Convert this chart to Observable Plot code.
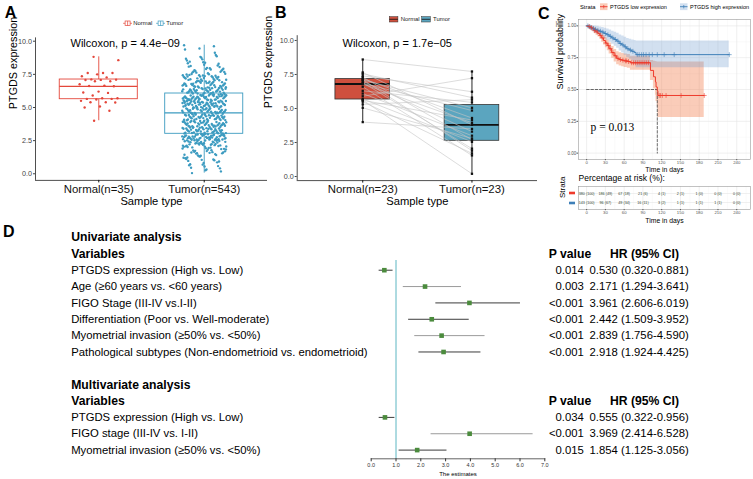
<!DOCTYPE html>
<html><head><meta charset="utf-8">
<script src="https://cdn.jsdelivr.net/npm/d3@7"></script>
<script src="https://cdn.jsdelivr.net/npm/@observablehq/plot@0.6"></script>
<style>
html,body{margin:0;padding:0;background:#fff;}
#root{position:relative;width:753px;height:479px;overflow:hidden;background:#fff;font-family:'Liberation Sans',Arial,Helvetica,sans-serif;}
</style></head>
<body><div id="root"></div>
<script>
// ---------------- DATA ----------------
// Panel A (unpaired)
const A_categories = ["Normal(n=35)", "Tumor(n=543)"];
const A_normal = [8.82,8.57,7.6,7.6,7.6,7.5,7.36,7.27,7.12,7.1,7.08,7.07,6.98,6.98,6.75,6.65,6.62,6.6,6.2,6.13,6.1,5.9,5.7,5.7,5.65,5.65,5.6,5.5,5.4,5.4,5.38,5.08,5.0,4.75,4.0];
const A_tumor = ("0.05 0.32 0.18 0.45 0.27 0.41 " +
"0.72 0.55 0.93 0.64 0.81 0.58 0.97 0.69 0.86 " +
"1.23 1.05 1.41 1.12 1.36 1.48 1.17 1.29 1.02 1.44 1.33 1.08 1.21 1.39 " +
"1.63 1.91 1.55 1.78 1.84 1.52 1.97 1.69 1.73 1.58 1.88 1.66 1.94 1.61 1.76 1.82 1.54 1.99 1.71 1.86 1.6 1.93 " +
"2.14 2.38 2.05 2.47 2.22 2.31 2.09 2.43 2.18 2.35 2.02 2.27 2.49 2.11 2.4 2.25 2.07 2.33 2.16 2.45 2.2 2.37 2.03 2.29 2.42 2.12 2.48 2.24 2.06 2.34 2.19 2.41 2.28 " +
"2.62 2.85 2.53 2.74 2.91 2.67 2.98 2.58 2.81 2.7 2.95 2.56 2.77 2.88 2.64 2.51 2.83 2.72 2.97 2.6 2.79 2.93 2.55 2.68 2.86 2.75 2.52 2.99 2.63 2.9 2.71 2.57 2.84 2.66 2.94 2.78 2.54 2.89 2.61 2.96 2.73 2.82 2.59 2.87 2.69 2.92 2.76 2.65 2.8 2.58 2.94 " +
"3.12 3.38 3.05 3.47 3.21 3.29 3.08 3.44 3.16 3.33 3.02 3.26 3.49 3.1 3.41 3.18 3.35 3.06 3.23 3.45 3.14 3.31 3.01 3.27 3.42 3.19 3.37 3.09 3.48 3.22 3.04 3.34 3.15 3.4 3.25 3.11 3.46 3.2 3.36 3.07 3.3 3.43 " +
"3.62 3.88 3.55 3.74 3.97 3.67 3.81 3.51 3.93 3.7 3.59 3.85 3.64 3.99 3.76 3.53 3.9 3.68 3.82 3.57 3.95 3.72 3.6 3.86 3.65 3.79 3.52 3.91 3.69 3.84 3.56 3.77 3.98 3.63 3.87 3.71 3.54 3.94 3.8 3.66 3.92 3.58 3.75 3.89 " +
"4.13 4.37 4.05 4.46 4.22 4.3 4.08 4.41 4.17 4.34 4.02 4.27 4.49 4.11 4.39 4.19 4.33 4.06 4.24 4.44 4.15 4.31 4.01 4.28 4.43 4.2 4.36 4.09 4.47 4.23 4.04 4.35 4.14 4.4 4.26 4.12 4.45 4.21 4.38 4.07 4.29 4.42 " +
"4.63 4.87 4.54 4.75 4.96 4.68 4.82 4.51 4.92 4.71 4.58 4.85 4.65 4.99 4.77 4.53 4.9 4.69 4.81 4.57 4.94 4.73 4.6 4.86 4.66 4.79 4.52 4.91 4.7 4.84 4.56 4.78 4.97 4.62 4.88 4.72 4.55 4.93 4.8 4.67 " +
"5.13 5.37 5.05 5.46 5.22 5.3 5.08 5.41 5.17 5.34 5.02 5.27 5.49 5.11 5.39 5.19 5.33 5.06 5.24 5.44 5.15 5.31 5.01 5.28 5.43 5.2 5.36 5.09 5.47 5.23 5.04 5.35 5.14 5.4 5.26 5.12 5.45 5.21 5.38 5.07 5.29 5.42 5.16 5.48 5.03 5.32 5.18 5.25 5.1 5.36 " +
"5.63 5.87 5.54 5.75 5.96 5.68 5.82 5.51 5.92 5.71 5.58 5.85 5.65 5.99 5.77 5.53 5.9 5.69 5.81 5.57 5.94 5.73 5.6 5.86 5.66 5.79 5.52 5.91 5.7 5.84 5.56 5.78 5.97 5.62 5.88 5.72 5.55 5.93 5.8 5.67 5.89 5.61 5.74 5.95 5.59 5.83 5.64 5.98 5.76 5.5 " +
"6.13 6.37 6.05 6.46 6.22 6.3 6.08 6.41 6.17 6.34 6.02 6.27 6.49 6.11 6.39 6.19 6.33 6.06 6.24 6.44 6.15 6.31 6.01 6.28 6.43 6.2 6.36 6.09 6.47 6.23 6.04 6.35 6.14 6.4 6.26 6.12 6.45 6.21 " +
"6.63 6.87 6.54 6.75 6.96 6.68 6.82 6.51 6.92 6.71 6.58 6.85 6.65 6.99 6.77 6.53 6.9 6.69 6.81 6.57 6.94 6.73 6.6 6.86 6.66 6.79 6.52 6.91 6.7 6.84 6.56 6.78 6.97 6.62 " +
"7.13 7.37 7.05 7.46 7.22 7.3 7.08 7.41 7.17 7.34 7.02 7.27 7.49 7.11 7.39 7.19 7.33 7.06 7.24 7.44 7.15 7.31 7.01 7.28 7.43 7.2 7.36 7.09 " +
"7.63 7.87 7.54 7.75 7.96 7.68 7.82 7.51 7.92 7.71 7.58 7.85 7.65 7.99 7.77 7.53 7.9 7.69 " +
"8.13 8.37 8.05 8.46 8.22 8.3 8.08 8.41 8.17 8.34 " +
"8.63 8.87 8.54 8.75 8.96 8.68 8.82 " +
"9.13 9.37 9.45 9.62 9.7").split(/\s+/).map(Number);
const A_pLabel = "Wilcoxon, p = 4.4e\u221209";

// Panel B (paired, patient order)
const B_categories = ["Normal(n=23)", "Tumor(n=23)"];
const B_normal = [8.6,7.65,7.55,7.4,7.3,7.2,7.12,7.1,7.0,6.9,6.85,6.8,6.6,6.3,6.1,5.9,5.7,5.62,5.6,5.5,5.3,5.05,4.0];
const B_tumor  = [7.72,3.8,5.8,6.23,2.7,4.3,1.9,5.05,3.3,2.05,4.85,3.95,1.55,5.45,3.0,7.23,2.55,0.2,4.15,1.7,5.65,2.8,3.5];
const B_pLabel = "Wilcoxon, p = 1.7e\u221205";
const groupNames = ["Normal", "Tumor"];

// Panel C (Kaplan-Meier)
const kmStrata = ["PTGDS low expression", "PTGDS high expression"];
const lowTime  = [0,3,6,9,12,15,18,21,24,27,30,33,36,40,44,48,52,56,60,65,70,102,107,110,111,113,114,188];
const lowSurv  = [1,0.995,0.985,0.975,0.962,0.952,0.94,0.925,0.905,0.885,0.865,0.845,0.82,0.79,0.765,0.745,0.735,0.73,0.725,0.72,0.71,0.65,0.60,0.56,0.52,0.49,0.453,0.453];
const lowUpper = [1,1,1,0.995,0.986,0.978,0.968,0.955,0.94,0.922,0.905,0.888,0.866,0.838,0.815,0.797,0.788,0.783,0.779,0.775,0.762,0.728,0.722,0.72,0.718,0.716,0.716,0.716];
const lowLower = [1,0.985,0.972,0.958,0.94,0.927,0.912,0.895,0.872,0.85,0.828,0.805,0.778,0.745,0.717,0.695,0.684,0.678,0.673,0.667,0.652,0.57,0.505,0.455,0.405,0.36,0.28,0.28];
const lowCensor = [4,8,13,17,22,26,31,35,38,42,46,50,54,58,62,64,67,72,75,78,81,84,87,90,93,96,99,116,118,121,127,151,188];
const highTime  = [0,3,6,9,12,16,20,24,28,32,36,40,44,48,52,56,60,64,68,72,76,79,228];
const highSurv  = [1,0.993,0.986,0.979,0.972,0.965,0.958,0.951,0.94,0.93,0.918,0.905,0.893,0.88,0.862,0.85,0.835,0.82,0.81,0.80,0.79,0.774,0.774];
const highUpper = [1,1,1,1,0.999,0.996,0.992,0.988,0.981,0.975,0.967,0.958,0.95,0.941,0.928,0.92,0.91,0.9,0.894,0.889,0.885,0.882,0.882];
const highLower = [1,0.98,0.966,0.955,0.944,0.934,0.924,0.915,0.9,0.887,0.872,0.855,0.84,0.824,0.802,0.787,0.769,0.751,0.738,0.724,0.705,0.671,0.671];
const highCensor = [2,5,7,11,14,18,22,26,30,34,38,42,46,50,54,58,62,66,70,74,81,84,88,91,95,100,105,113,124,140,228];
const kmPLabel = "p = 0.013";
const riskTimes = [0,30,60,90,120,150,180,210,240];
const riskLowN  = [380,186,67,21,4,2,1,0,0];
const riskLowPct = [100,49,18,6,1,1,0,0,0];
const riskHighN = [143,96,49,16,3,1,1,1,0];
const riskHighPct = [100,67,34,11,2,1,1,1,0];

// Panel D (Cox regression forest)
const sectionTitles = ["Univariate analysis", "Multivariate analysis"];
const colHeaders = ["Variables", "P value", "HR (95% CI)"];
const uniVars = ["PTGDS expression (High vs. Low)", "Age (\u226560 years vs. <60 years)", "FIGO Stage (III-IV vs.I-II)", "Differentiation (Poor vs. Well-moderate)", "Myometrial invasion (\u226550% vs. <50%)", "Pathological subtypes (Non-endometrioid vs. endometrioid)"];
const uniHR   = [0.530, 2.171, 3.961, 2.442, 2.839, 2.918];
const uniLow  = [0.320, 1.294, 2.606, 1.509, 1.756, 1.924];
const uniHigh = [0.881, 3.641, 6.019, 3.952, 4.590, 4.425];
const uniP    = ["0.014", "0.003", "<0.001", "<0.001", "<0.001", "<0.001"];
const multiVars = ["PTGDS expression (High vs. Low)", "FIGO stage (III-IV vs. I-II)", "Myometrial invasion (\u226550% vs. <50%)"];
const multiHR   = [0.555, 3.969, 1.854];
const multiLow  = [0.322, 2.414, 1.125];
const multiHigh = [0.956, 6.528, 3.056];
const multiP    = ["0.034", "<0.001", "0.015"];

// ---------------- HELPERS ----------------
const root = document.getElementById("root");
const FONT = "'Liberation Sans', Arial, Helvetica, sans-serif";
const baseStyle = {fontFamily: FONT, background: "transparent", overflow: "visible"};
function put(node, left, top) {
  node.style.position = "absolute";
  node.style.left = left + "px";
  node.style.top = top + "px";
  node.style.maxWidth = "none";
  root.appendChild(node);
}
function boxStats(vals, g) {
  const s = vals.slice().sort(d3.ascending);
  const q1 = d3.quantile(s, 0.25), med = d3.quantile(s, 0.5), q3 = d3.quantile(s, 0.75);
  const iqr = q3 - q1;
  return {g, q1, med, q3,
    lo: d3.min(s.filter(v => v >= q1 - 1.5 * iqr)),
    hi: d3.max(s.filter(v => v <= q3 + 1.5 * iqr))};
}
const jit = (i, w) => (((i * 0.6180339887 + 0.37) % 1) - 0.5) * w;

// ---------------- PANEL A ----------------
const colA = ["#E4473B", "#3C9BC0"];
const ptsA = [
  ...A_normal.map((v, i) => ({g: 1, v, jx: 1 + jit(i, 0.38)})),
  ...A_tumor.map((v, i) => ({g: 2, v, jx: 2 + jit(i * 7 + 3, 0.42)}))
];
const statsA = [boxStats(A_normal, 1), boxStats(A_tumor, 2)];
const halfA = 0.37;
put(Plot.plot({
  width: 270, height: 180, marginLeft: 35, marginRight: 3, marginTop: 7.4, marginBottom: 30.1,
  x: {domain: [0.4, 2.6], axis: null}, y: {domain: [-0.5, 10.25], axis: null},
  color: {type: "identity"}, style: baseStyle,
  marks: [
    Plot.ruleX(statsA, {x: "g", y1: "q3", y2: "hi", stroke: d => colA[d.g - 1], strokeWidth: 0.9}),
    Plot.ruleX(statsA, {x: "g", y1: "lo", y2: "q1", stroke: d => colA[d.g - 1], strokeWidth: 0.9}),
    Plot.rect(statsA, {x1: d => d.g - halfA, x2: d => d.g + halfA, y1: "q1", y2: "q3", fill: "white", stroke: d => colA[d.g - 1], strokeWidth: 0.9}),
    Plot.ruleY(statsA, {y: "med", x1: d => d.g - halfA, x2: d => d.g + halfA, stroke: d => colA[d.g - 1], strokeWidth: 1.3}),
    Plot.dot(ptsA, {x: "jx", y: "v", r: 1.2, fill: d => colA[d.g - 1]}),
    Plot.ruleX([0.4], {stroke: "#222", strokeWidth: 0.8}),
    Plot.ruleY([-0.5], {stroke: "#222", strokeWidth: 0.8}),
    Plot.axisY({ticks: [0, 2.5, 5, 7.5, 10], tickFormat: d3.format(".1f"), tickSize: 2, tickPadding: 1.5, fontSize: 7.2, color: "#444", label: null}),
    Plot.axisX({ticks: [1, 2], tickFormat: d => A_categories[d - 1], tickSize: 2.5, tickPadding: 1.5, fontSize: 11.4, color: "#111", label: null}),
    Plot.text([A_pLabel], {frameAnchor: "top-left", textAnchor: "start", lineAnchor: "middle", dx: 35, dy: 5.6, fontSize: 11}),
    Plot.text(["Sample type"], {frameAnchor: "bottom", lineAnchor: "middle", dy: 21.1, fontSize: 11.2}),
    Plot.text(["PTGDS expression"], {frameAnchor: "left", rotate: -90, lineAnchor: "middle", dx: -22, fontSize: 10.8})
  ]
}), 0, 30);

// ---------------- PANEL B ----------------
const colB = ["#CF503E", "#5BA5BF"];
const statsB = [boxStats(B_normal, 1), boxStats(B_tumor, 2)];
const pairsB = B_normal.map((n, i) => ({n, t: B_tumor[i]}));
const ptsB = [...B_normal.map(v => ({g: 1, v})), ...B_tumor.map(v => ({g: 2, v}))];
const halfB = 0.25;
put(Plot.plot({
  width: 285, height: 180, marginLeft: 41.7, marginRight: 3, marginTop: 5.2, marginBottom: 29.9,
  x: {domain: [0.4, 2.6], axis: null}, y: {domain: [-0.3, 10.35], axis: null},
  color: {type: "identity"}, style: baseStyle,
  marks: [
    Plot.ruleX(statsB, {x: "g", y1: "lo", y2: "hi", stroke: "#111", strokeWidth: 0.9}),
    Plot.rect(statsB, {x1: d => d.g - halfB, x2: d => d.g + halfB, y1: "q1", y2: "q3", fill: d => colB[d.g - 1], stroke: "#333", strokeWidth: 0.8}),
    Plot.ruleY(statsB, {y: "med", x1: d => d.g - halfB, x2: d => d.g + halfB, stroke: "#111", strokeWidth: 1.8}),
    Plot.link(pairsB, {x1: () => 1, y1: "n", x2: () => 2, y2: "t", stroke: "#c4c4c4", strokeWidth: 0.6}),
    Plot.dot(ptsB, {x: "g", y: "v", symbol: "square", r: 1.3, fill: "#111"}),
    Plot.ruleX([0.4], {stroke: "#222", strokeWidth: 0.8}),
    Plot.ruleY([-0.3], {stroke: "#222", strokeWidth: 0.8}),
    Plot.axisY({ticks: [0, 2.5, 5, 7.5, 10], tickFormat: d3.format(".1f"), tickSize: 2, tickPadding: 1.5, fontSize: 7.2, color: "#444", label: null}),
    Plot.axisX({ticks: [1, 2], tickFormat: d => B_categories[d - 1], tickSize: 2.5, tickPadding: 1.5, fontSize: 11.4, color: "#111", label: null}),
    Plot.text([B_pLabel], {frameAnchor: "top-left", textAnchor: "start", lineAnchor: "middle", dx: 45.3, dy: 8.1, fontSize: 11}),
    Plot.text(["Sample type"], {frameAnchor: "bottom", lineAnchor: "middle", dy: 21.1, fontSize: 11.2}),
    Plot.text(["PTGDS expression"], {frameAnchor: "left", rotate: -90, lineAnchor: "middle", dx: -28.4, fontSize: 10.8})
  ]
}), 255, 30);

// ---------------- PANEL C ----------------
const kmRed = "#EE3A2C", kmBlue = "#3F80B8";
const bandRed = "#F27A48", bandBlue = "#6A98CC";
const lowKM = lowTime.map((t, i) => ({t, s: lowSurv[i], lo: lowLower[i], hi: lowUpper[i]}));
const highKM = highTime.map((t, i) => ({t, s: highSurv[i], lo: highLower[i], hi: highUpper[i]}));
const stepAt = (times, surv, t) => surv[Math.max(0, d3.bisectRight(times, t) - 1)];
const lowCens = lowCensor.map(t => ({t, s: stepAt(lowTime, lowSurv, t)}));
const highCens = highCensor.map(t => ({t, s: stepAt(highTime, highSurv, t)}));
const medianLow = lowTime[lowSurv.findIndex(s => s <= 0.5)];
const medianPath = [{t: 0, s: 0.5}, {t: medianLow, s: 0.5}, {t: medianLow, s: 0}];
const xDomC = [-13, 262];
const majorT = d3.range(0, 241, 30), minorT = d3.range(15, 262, 30);
put(Plot.plot({
  width: 243, height: 175, marginLeft: 68, marginRight: 3, marginTop: 19, marginBottom: 16,
  x: {domain: xDomC, axis: null}, y: {domain: [-0.05, 1.05], axis: null},
  style: baseStyle,
  marks: [
    Plot.gridX({ticks: minorT, stroke: "#f3f3f3", strokeOpacity: 1, strokeWidth: 0.4}),
    Plot.gridY({ticks: [0.125, 0.375, 0.625, 0.875], stroke: "#f3f3f3", strokeOpacity: 1, strokeWidth: 0.4}),
    Plot.gridX({ticks: majorT, stroke: "#e6e6e6", strokeOpacity: 1, strokeWidth: 0.6}),
    Plot.gridY({ticks: [0, 0.25, 0.5, 0.75, 1], stroke: "#e6e6e6", strokeOpacity: 1, strokeWidth: 0.6}),
    Plot.areaY(lowKM, {x: "t", y1: "lo", y2: "hi", curve: "step-after", fill: bandRed, fillOpacity: 0.38}),
    Plot.areaY(highKM, {x: "t", y1: "lo", y2: "hi", curve: "step-after", fill: bandBlue, fillOpacity: 0.3}),
    Plot.line(medianPath, {x: "t", y: "s", stroke: "#444", strokeWidth: 0.8, strokeDasharray: "2.5,1.8"}),
    Plot.line(highKM, {x: "t", y: "s", curve: "step-after", stroke: kmBlue, strokeWidth: 1}),
    Plot.line(lowKM, {x: "t", y: "s", curve: "step-after", stroke: kmRed, strokeWidth: 1}),
    Plot.dot(highCens, {x: "t", y: "s", symbol: "plus", r: 1.7, stroke: kmBlue, strokeWidth: 0.6}),
    Plot.dot(lowCens, {x: "t", y: "s", symbol: "plus", r: 1.7, stroke: kmRed, strokeWidth: 0.6}),
    Plot.frame({stroke: "#9a9a9a", strokeWidth: 0.6}),
    Plot.axisY({ticks: [0, 0.25, 0.5, 0.75, 1], tickFormat: d3.format(".2f"), tickSize: 1.5, tickPadding: 0.8, fontSize: 4.5, color: "#555", label: null}),
    Plot.axisX({ticks: majorT, tickSize: 1.2, tickPadding: 0.5, fontSize: 4.3, color: "#555", label: null}),
    Plot.text([kmPLabel], {frameAnchor: "bottom-left", textAnchor: "start", lineAnchor: "middle", dx: 12, dy: -32, fontSize: 11.5, fontFamily: "'Liberation Serif', 'DejaVu Serif', serif"}),
    Plot.text(["Time in days"], {frameAnchor: "bottom", lineAnchor: "middle", dy: 10.2, fontSize: 6.8}),
    Plot.text(["Survival probability"], {frameAnchor: "left", rotate: -90, lineAnchor: "middle", dx: -18, fontSize: 9})
  ]
}), 510, 0);

// Risk table
const riskRows = [
  ...riskTimes.map((t, i) => ({t, strata: kmStrata[0], label: `${riskLowN[i]} (${riskLowPct[i]})`})),
  ...riskTimes.map((t, i) => ({t, strata: kmStrata[1], label: `${riskHighN[i]} (${riskHighPct[i]})`}))
];
put(Plot.plot({
  width: 243, height: 50, marginLeft: 68, marginRight: 3, marginTop: 11, marginBottom: 16,
  x: {domain: xDomC, axis: null}, y: {type: "point", domain: kmStrata, padding: 0.7, axis: null},
  style: baseStyle,
  marks: [
    Plot.gridX({ticks: minorT, stroke: "#f3f3f3", strokeOpacity: 1, strokeWidth: 0.4}),
    Plot.gridX({ticks: majorT, stroke: "#e6e6e6", strokeOpacity: 1, strokeWidth: 0.6}),
    Plot.gridY(kmStrata, {stroke: "#e6e6e6", strokeOpacity: 1, strokeWidth: 0.6}),
    Plot.frame({stroke: "#9a9a9a", strokeWidth: 0.6}),
    Plot.text(riskRows, {x: "t", y: "strata", text: "label", fontSize: 3.7, fill: "#31452f"}),
    Plot.axisX({ticks: majorT, tickSize: 1.2, tickPadding: 0.5, fontSize: 4.3, color: "#555", label: null}),
    Plot.text(["Percentage at risk (%):"], {frameAnchor: "top-left", textAnchor: "start", lineAnchor: "middle", dy: -8, fontSize: 8.5}),
    Plot.text(["Strata"], {frameAnchor: "left", rotate: -90, lineAnchor: "middle", dx: -16, fontSize: 8}),
    Plot.text(["Time in days"], {frameAnchor: "bottom", lineAnchor: "middle", dy: 11.3, fontSize: 6.8})
  ]
}), 510, 175);

// ---------------- PANEL D ----------------
const headRows = [], dataRows = [];
let rowIdx = 0;
[[sectionTitles[0], uniVars, uniHR, uniLow, uniHigh, uniP],
 [sectionTitles[1], multiVars, multiHR, multiLow, multiHigh, multiP]].forEach(([title, vars, hr, lo, hi, p], s) => {
  headRows.push({row: rowIdx++, label: title, kind: "title"});
  headRows.push({row: rowIdx++, label: colHeaders[0], kind: "head"});
  vars.forEach((v, i) => dataRows.push({row: rowIdx++, label: v, hr: hr[i], lo: lo[i], hi: hi[i], p: p[i], s, i}));
  rowIdx++;
});
const lightCI = new Set(["0-1", "0-4", "1-1"]);
const fmt3 = d3.format(".3f");
put(Plot.plot({
  width: 753, height: 259, marginLeft: 370.7, marginRight: 208.7, marginTop: 40, marginBottom: 20.7,
  x: {domain: [0, 7], axis: null}, y: {domain: [0, 13], range: [17, 229.6], axis: null},
  color: {type: "identity"}, style: baseStyle,
  marks: [
    Plot.ruleX([1], {stroke: "#5db6c2", strokeWidth: 1}),
    Plot.ruleY(dataRows, {y: "row", x1: "lo", x2: "hi", stroke: d => lightCI.has(d.s + "-" + d.i) ? "#9b9b9b" : "#3c3c3c", strokeWidth: 1}),
    Plot.dot(dataRows, {x: "hr", y: "row", symbol: "square", r: 2.6, fill: "#4b8b3d"}),
    Plot.frame({anchor: "bottom", stroke: "#222", strokeWidth: 0.7}),
    Plot.axisX({ticks: d3.range(0, 8), tickSize: 3, tickPadding: 1.5, fontSize: 5.5, color: "#333", label: null}),
    Plot.text(["The estimates"], {frameAnchor: "bottom", lineAnchor: "middle", dy: 15.7, fontSize: 6}),
    Plot.text(headRows, {y: "row", text: "label", frameAnchor: "left", textAnchor: "start", lineAnchor: "middle", dx: -300, fontSize: 12.2, fontWeight: "bold"}),
    Plot.text(dataRows, {y: "row", text: "label", frameAnchor: "left", textAnchor: "start", lineAnchor: "middle", dx: -300, fontSize: 11.3}),
    Plot.text(headRows.filter(d => d.kind === "head"), {y: "row", text: () => colHeaders[1], frameAnchor: "right", textAnchor: "middle", lineAnchor: "middle", dx: 25.2, fontSize: 12.2, fontWeight: "bold"}),
    Plot.text(headRows.filter(d => d.kind === "head"), {y: "row", text: () => colHeaders[2], frameAnchor: "right", textAnchor: "middle", lineAnchor: "middle", dx: 99.7, fontSize: 12.2, fontWeight: "bold"}),
    Plot.text(dataRows, {y: "row", text: "p", frameAnchor: "right", textAnchor: "end", lineAnchor: "middle", dx: 39, fontSize: 11.3}),
    Plot.text(dataRows, {y: "row", text: d => `${fmt3(d.hr)} (${fmt3(d.lo)}-${fmt3(d.hi)})`, frameAnchor: "right", textAnchor: "start", lineAnchor: "middle", dx: 44.7, fontSize: 11.3})
  ]
}), 0, 220);

// ---------------- OVERLAY: panel letters & legends ----------------
const ov = d3.create("svg").attr("width", 753).attr("height", 479)
  .style("position", "absolute").style("left", "0px").style("top", "0px")
  .style("font-family", FONT);
[["A", 4.8, 18.3], ["B", 275, 18], ["C", 538, 19.2], ["D", 3, 236.7]].forEach(([t, x, y]) =>
  ov.append("text").attr("x", x).attr("y", y).attr("font-size", 16).attr("font-weight", "bold").text(t));
// Legend A (boxplot glyphs)
[[124.3, colA[0], groupNames[0]], [157.3, colA[1], groupNames[1]]].forEach(([x, c, lab]) => {
  const g = ov.append("g");
  g.append("line").attr("x1", x - 1.2).attr("x2", x + 7.7).attr("y1", 23.3).attr("y2", 23.3).attr("stroke", c).attr("stroke-width", 0.7);
  g.append("rect").attr("x", x + 0.8).attr("y", 21).attr("width", 5).attr("height", 4.6).attr("fill", "white").attr("stroke", c).attr("stroke-width", 0.7);
  g.append("line").attr("x1", x + 3.3).attr("x2", x + 3.3).attr("y1", 21).attr("y2", 25.6).attr("stroke", c).attr("stroke-width", 0.7);
  g.append("text").attr("x", x + 9).attr("y", 25.4).attr("font-size", 5.9).attr("fill", "#222").text(lab);
});
// Legend B (filled boxes)
[[389.3, colB[0], groupNames[0]], [421.7, colB[1], groupNames[1]]].forEach(([x, c, lab]) => {
  ov.append("rect").attr("x", x).attr("y", 16.6).attr("width", 8.6).attr("height", 5.4).attr("fill", c).attr("stroke", "#333").attr("stroke-width", 0.5);
  ov.append("line").attr("x1", x).attr("x2", x + 8.6).attr("y1", 19.3).attr("y2", 19.3).attr("stroke", "#111").attr("stroke-width", 0.8);
  ov.append("text").attr("x", x + 11.4).attr("y", 21.4).attr("font-size", 5.9).attr("fill", "#222").text(lab);
});
// Legend C
ov.append("text").attr("x", 580).attr("y", 8.9).attr("font-size", 5.8).text("Strata");
[[600, kmRed, bandRed, 0.38, kmStrata[0]], [680, kmBlue, bandBlue, 0.3, kmStrata[1]]].forEach(([x, c, b, op, lab]) => {
  ov.append("rect").attr("x", x).attr("y", 3.3).attr("width", 7.5).attr("height", 6.8).attr("fill", b).attr("fill-opacity", op);
  ov.append("line").attr("x1", x).attr("x2", x + 7.5).attr("y1", 6.7).attr("y2", 6.7).attr("stroke", c).attr("stroke-width", 0.9);
  ov.append("line").attr("x1", x + 3.75).attr("x2", x + 3.75).attr("y1", 5).attr("y2", 8.4).attr("stroke", c).attr("stroke-width", 0.7);
  ov.append("text").attr("x", x + 10).attr("y", 8.9).attr("font-size", 5.5).text(lab);
});
// Risk-table strata keys
[[193, kmRed], [203, kmBlue]].forEach(([y, c]) =>
  ov.append("rect").attr("x", 569).attr("y", y - 1.3).attr("width", 6).attr("height", 2.6).attr("fill", c));
root.appendChild(ov.node());
</script>
</body></html>
